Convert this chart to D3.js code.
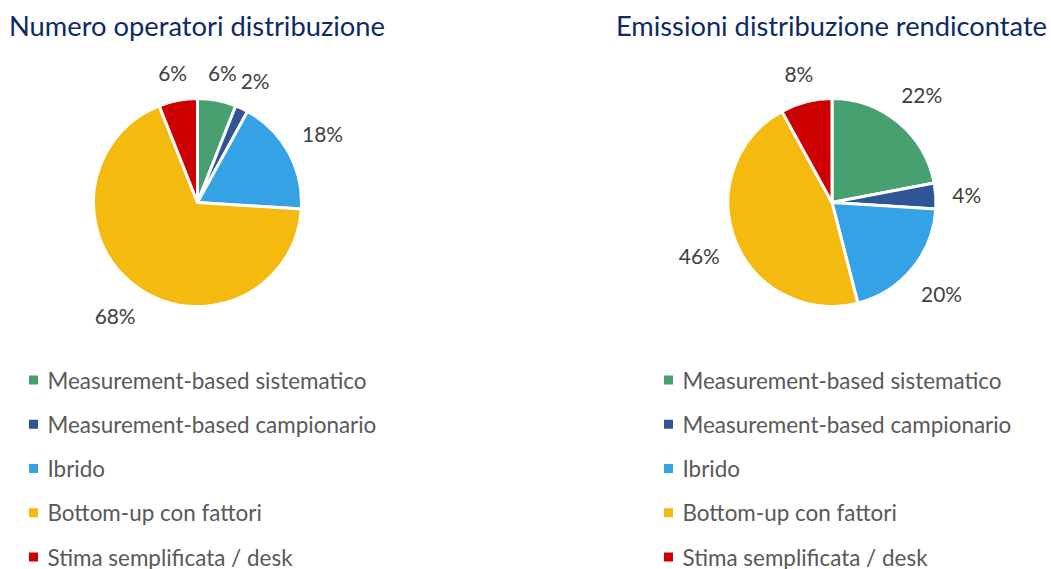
<!DOCTYPE html>
<html>
<head>
<meta charset="utf-8">
<script src="https://cdn.jsdelivr.net/npm/d3@7"></script>
<style>
  html, body { margin: 0; padding: 0; background: #ffffff; }
  svg { display: block; }
</style>
</head>
<body>
<svg id="chart" width="1051" height="569"></svg>
<script>
// Methods used to estimate distribution emissions
const categories = [
  "Measurement-based sistematico",
  "Measurement-based campionario",
  "Ibrido",
  "Bottom-up con fattori",
  "Stima semplificata / desk"
];
const colors = ["#46a06f", "#2f5597", "#36a2e6", "#f4ba10", "#cc0000"];

// Share of operators per method (%)
const operatorShares = [6, 2, 18, 68, 6];
// Share of reported emissions per method (%)
const emissionShares = [22, 4, 20, 46, 8];

const titles = ["Numero operatori distribuzione", "Emissioni distribuzione rendicontate"];

const svg = d3.select("#chart");
const FONT = "Lato, 'Open Sans', sans-serif";
const R = 104;

// font size that makes a string span a given width
function fitSize(str, width) {
  const t = svg.append("text").attr("font-family", FONT).attr("font-size", 100).text(str);
  const w = t.node().getComputedTextLength();
  t.remove();
  return 100 * width / w;
}

const titleSizes = [fitSize(titles[0], 376), fitSize(titles[1], 431)];
const legendSize = fitSize(categories[1], 329);
const labelSize = fitSize("18%", 41);

const panels = [
  { title: titles[0], tsize: titleSizes[0], values: operatorShares, cx: 197.5, cy: 202.5, titleX: 9, legendX: 29 },
  { title: titles[1], tsize: titleSizes[1], values: emissionShares, cx: 832, cy: 202.5, titleX: 616, legendX: 664 }
];

const pie = d3.pie().sort(null).value(d => d);
const arc = d3.arc().innerRadius(0).outerRadius(R);
const fmt = v => v + "%";
const rowY = d3.scalePoint().domain(categories).range([380, 557]);

panels.forEach(p => {
  // title
  svg.append("text")
    .attr("x", p.titleX)
    .attr("y", 35.5)
    .attr("font-family", FONT)
    .attr("font-size", p.tsize)
    .attr("fill", "#0e2a66")
    .text(p.title);

  const g = svg.append("g").attr("transform", `translate(${p.cx},${p.cy})`);
  const arcs = pie(p.values);

  g.selectAll("path.slice")
    .data(arcs)
    .join("path")
    .attr("class", "slice")
    .attr("d", arc)
    .attr("fill", (d, i) => colors[i])
    .attr("stroke", "#ffffff")
    .attr("stroke-width", 3)
    .attr("stroke-linejoin", "round");

  // percentage labels placed just outside each slice
  g.selectAll("text.lbl")
    .data(arcs)
    .join("text")
    .attr("class", "lbl")
    .attr("font-family", FONT)
    .attr("font-size", labelSize)
    .attr("fill", "#404040")
    .attr("text-anchor", "middle")
    .attr("dominant-baseline", "central")
    .text(d => fmt(d.data))
    .each(function (d) {
      const a = (d.startAngle + d.endAngle) / 2;
      const ux = Math.sin(a), uy = -Math.cos(a);
      const hw = this.getComputedTextLength() / 2, hh = 10;
      const support = hw * Math.abs(ux) + hh * Math.abs(uy);
      const dist = R + 16 + support;
      d3.select(this).attr("x", ux * dist).attr("y", uy * dist);
    });

  // legend
  const rows = svg.append("g").selectAll("g").data(categories).join("g")
    .attr("transform", d => `translate(${p.legendX},${rowY(d)})`);
  rows.append("rect")
    .attr("x", 0).attr("y", -4.5)
    .attr("width", 9).attr("height", 9)
    .attr("fill", (d, i) => colors[i]);
  rows.append("text")
    .attr("x", 18.5).attr("y", 0)
    .attr("dominant-baseline", "central")
    .attr("font-family", FONT)
    .attr("font-size", legendSize)
    .attr("fill", "#595959")
    .text(d => d);
});
</script>
</body>
</html>
